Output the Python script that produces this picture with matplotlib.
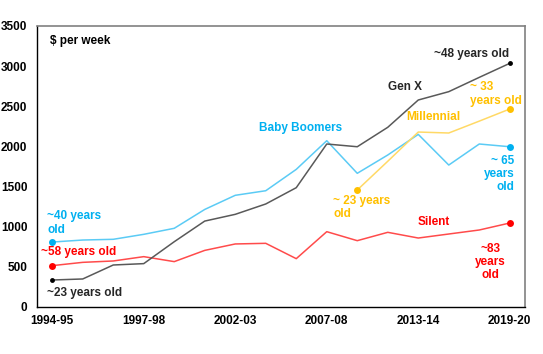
import matplotlib
matplotlib.use("Agg")
import matplotlib.pyplot as plt
import numpy as np

plt.rcParams['font.family'] = ['Liberation Sans', 'DejaVu Sans']

periods = ["1994-95", "1995-96", "1996-97", "1997-98", "1999-00", "2000-01", "2002-03",
           "2003-04", "2005-06", "2007-08", "2009-10", "2011-12", "2013-14", "2015-16",
           "2017-18", "2019-20"]
tick_labels = ["1994-95", "1997-98", "2002-03", "2007-08", "2013-14", "2019-20"]

baby_boomers = [809, 834, 843, 905, 980, 1215, 1391, 1448, 1714, 2071, 1665, 1893, 2150, 1768, 2030, 1996]
gen_x = [336, 349, 523, 540, 813, 1070, 1154, 1283, 1486, 2030, 1996, 2238, 2578, 2682, 2860, 3035]
silent = [515, 556, 573, 627, 565, 705, 785, 793, 602, 938, 826, 930, 859, 909, 959, 1046]
millennial = [None] * 10 + [1457, 1815, 2179, 2167, 2315, 2466]

fig = plt.figure(figsize=(5.43, 3.54), dpi=100)
ax = fig.add_axes([0.0681, 0.1328, 0.8988, 0.7938])

x = np.arange(len(periods))

def plot_series(vals, line_c, mark_c, ms):
    xs = [i for i, v in enumerate(vals) if v is not None]
    ys = [v for v in vals if v is not None]
    ax.plot(xs, ys, color=line_c, lw=1.1, zorder=2)
    ax.plot([xs[0], xs[-1]], [ys[0], ys[-1]], 'o', color=mark_c, ms=ms, zorder=3, mec='none')

plot_series(silent, '#FF4B4B', '#FF0000', 5)
plot_series(baby_boomers, '#5BCBF5', '#00B0F0', 5)
plot_series(millennial, '#FFD966', '#FFC000', 5)
plot_series(gen_x, '#595959', '#000000', 3.5)

ax.set_xlim(-0.5, 15.5)
ax.set_ylim(0, 3500)
ax.set_yticks(np.arange(0, 3501, 500))
ax.set_xticks([periods.index(t) for t in tick_labels])
ax.set_xticklabels(tick_labels)
ax.tick_params(length=0, labelsize=8.5)
ax.tick_params(axis='y', pad=7)
ax.tick_params(axis='x', pad=6)
for lab in ax.get_xticklabels() + ax.get_yticklabels():
    lab.set_fontweight('bold')
    lab.set_color('#000000')

for s in ['left', 'bottom']:
    ax.spines[s].set_color('#000000')
    ax.spines[s].set_linewidth(1.0)
for s in ['top', 'right']:
    ax.spines[s].set_color('#808080')
    ax.spines[s].set_linewidth(1.2)

fs = 8.5
kw = dict(fontsize=fs, fontweight='bold')
ax.text(-0.066, 3313, "$ per week", ha='left', va='center', color='#000000', **kw)
ax.text(-0.16, 1046, "~40 years\nold", ha='left', va='center', color='#00B0F0', linespacing=1.15, **kw)
ax.text(-0.36, 689, "~58 years old", ha='left', va='center', color='#FF0000', **kw)
ax.text(-0.16, 178, "~23 years old", ha='left', va='center', color='#262626', **kw)
ax.text(8.14, 2225, "Baby Boomers", ha='center', va='center', color='#00B0F0', **kw)
ax.text(11.55, 2740, "Gen X", ha='center', va='center', color='#262626', **kw)
ax.text(13.75, 3151, "~48 years old", ha='center', va='center', color='#262626', **kw)
ax.text(13.69, 2653, "~ 33\nyears old", ha='left', va='center', color='#FFC000', linespacing=1.15, **kw)
ax.text(12.5, 2366, "Millennial", ha='center', va='center', color='#FFC000', **kw)
ax.text(15.16, 1656, "~ 65\nyears\nold", ha='right', va='center', color='#00B0F0', linespacing=1.15, multialignment='right', **kw)
ax.text(9.22, 1239, "~ 23 years\nold", ha='left', va='center', color='#FFC000', linespacing=1.15, **kw)
ax.text(12.5, 1062, "Silent", ha='center', va='center', color='#FF0000', **kw)
ax.text(14.37, 560, "~83\nyears\nold", ha='center', va='center', color='#FF0000', linespacing=1.15, multialignment='center', **kw)

fig.savefig("out.png", dpi=100)
